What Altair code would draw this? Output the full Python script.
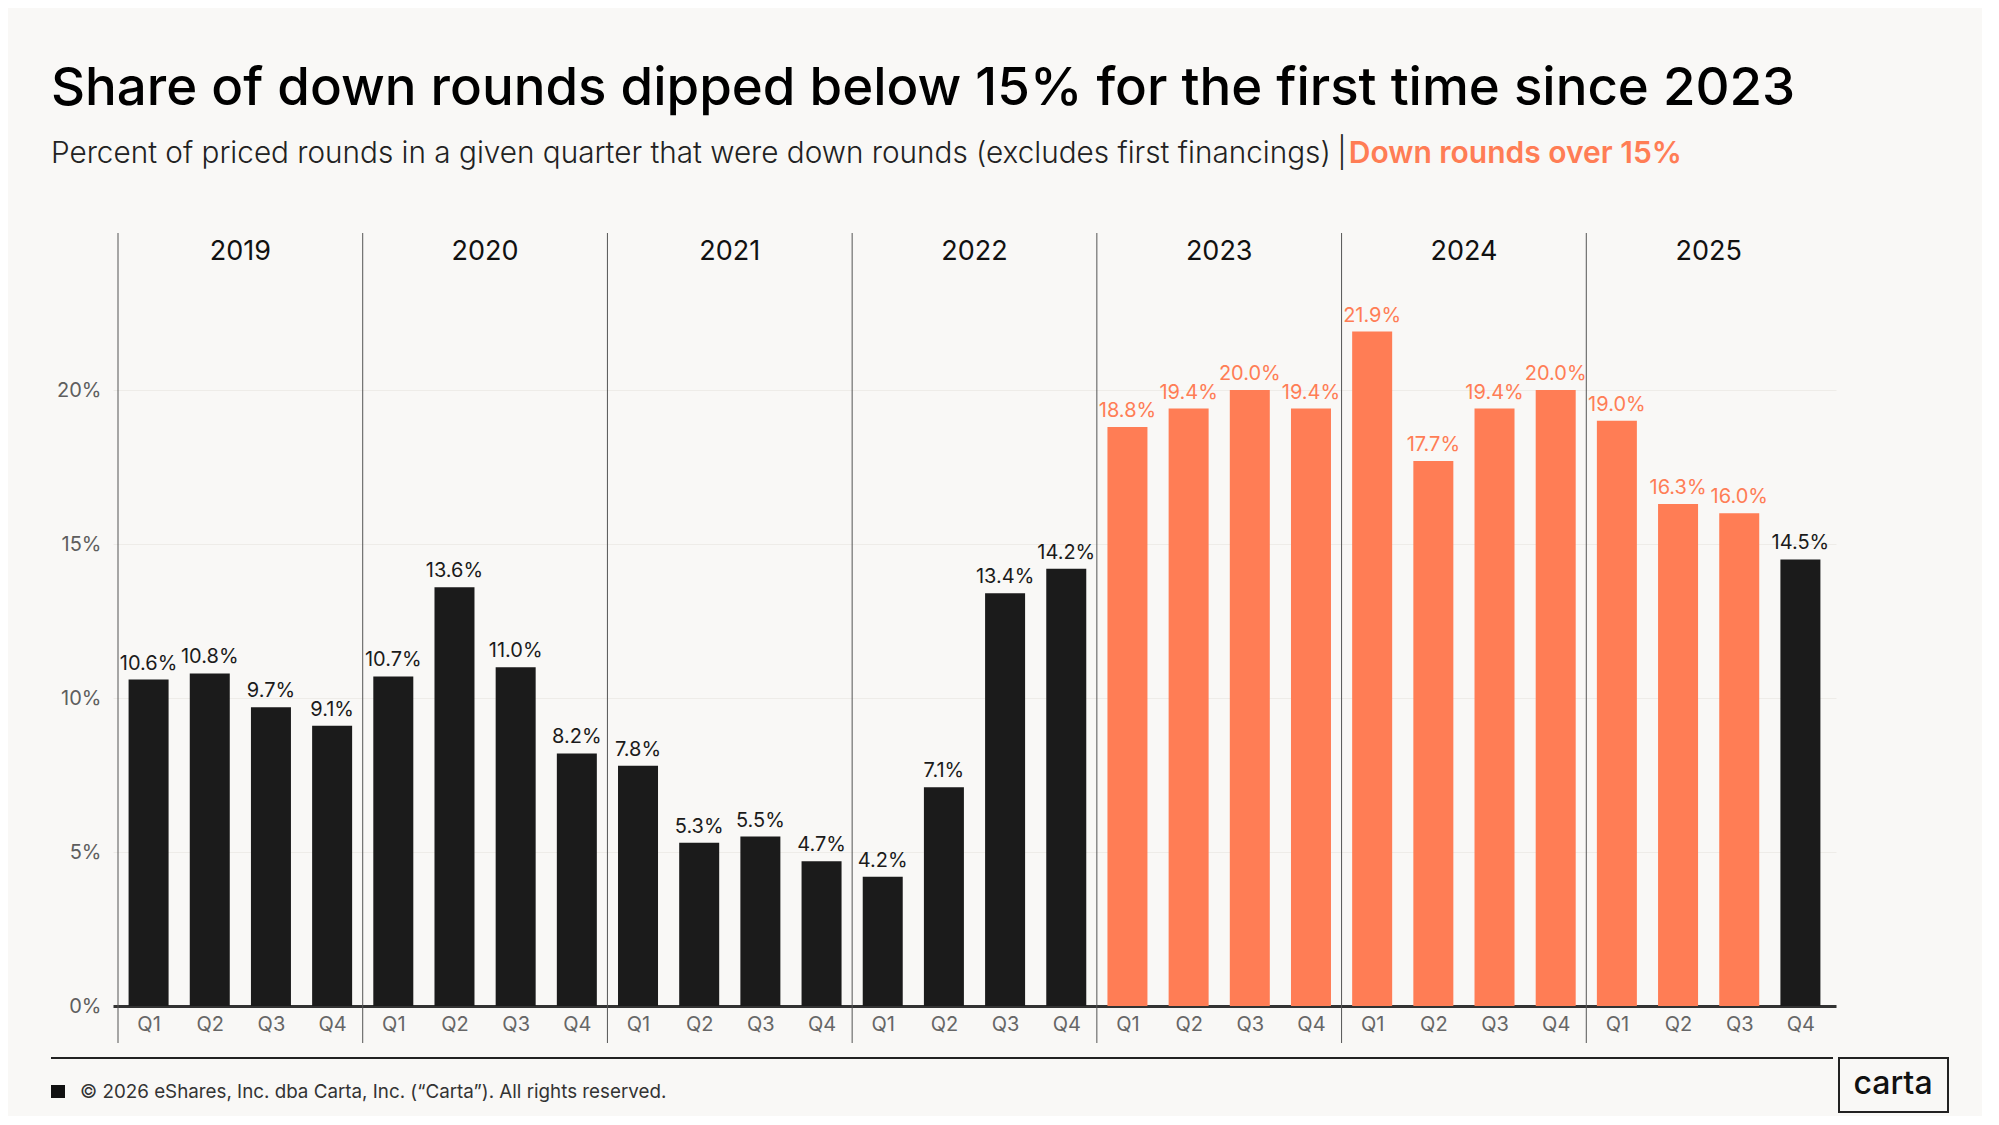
import altair as alt
import pandas as pd

years = ["2019", "2020", "2021", "2022", "2023", "2024", "2025"]
quarters = ["Q1", "Q2", "Q3", "Q4"]
values = [
    10.6, 10.8, 9.7, 9.1,
    10.7, 13.6, 11.0, 8.2,
    7.8, 5.3, 5.5, 4.7,
    4.2, 7.1, 13.4, 14.2,
    18.8, 19.4, 20.0, 19.4,
    21.9, 17.7, 19.4, 20.0,
    19.0, 16.3, 16.0, 14.5,
]
threshold = 15.0

title_text = "Share of down rounds dipped below 15% for the first time since 2023"
subtitle_text = "Percent of priced rounds in a given quarter that were down rounds (excludes first financings)"
subtitle_hl = "Down rounds over 15%"
footer_text = "\u00a9 2026 eShares, Inc. dba Carta, Inc. (\u201cCarta\u201d). All rights reserved."

ORANGE = "#FF7D55"
BLACK = "#1B1B1B"
BG = "#F9F8F6"
FONT = "Inter"

rows = []
for i, v in enumerate(values):
    rows.append({
        "idx": i,
        "year": years[i // 4],
        "quarter": quarters[i % 4],
        "value": v,
        "label": f"{v:.1f}%",
        "hot": v > threshold,
    })
df = pd.DataFrame(rows)

year_df = pd.DataFrame({"year": years, "center": [4 * k + 1.5 for k in range(len(years))]})
sep_df = pd.DataFrame({"pos": [4 * k - 0.5 for k in range(len(years))]})

W, H = 1723, 773
x_scale = alt.Scale(domain=[-0.5, 27.5], nice=False, zero=False)
y_scale = alt.Scale(domain=[0, 25.1], nice=False)

color_enc = alt.condition("datum.hot", alt.value(ORANGE), alt.value(BLACK))

bars = alt.Chart(df).mark_bar(size=40).encode(
    x=alt.X("idx:Q", scale=x_scale,
            axis=alt.Axis(values=list(range(28)), labelExpr="'Q' + ((datum.value % 4) + 1)",
                          title=None, grid=False, ticks=False, domain=True,
                          domainColor="#333333", domainWidth=3,
                          labelColor="#666666", labelFontSize=20, labelFont=FONT,
                          labelPadding=8, labelFontWeight=400)),
    y=alt.Y("value:Q", scale=y_scale,
            axis=alt.Axis(values=[0, 5, 10, 15, 20], labelExpr="datum.value + '%'",
                          title=None, domain=False, ticks=False, grid=True,
                          gridColor="#EEECE8", gridWidth=1,
                          labelColor="#5E5E5E", labelFontSize=20, labelFont=FONT,
                          labelPadding=12)),
    color=color_enc,
)

labels = alt.Chart(df).mark_text(baseline="bottom", dy=-6, fontSize=20, font=FONT).encode(
    x=alt.X("idx:Q", scale=x_scale),
    y=alt.Y("value:Q", scale=y_scale),
    text="label:N",
    color=color_enc,
)

seps = alt.Chart(sep_df).mark_rule(color="#555555", strokeWidth=1).encode(
    x=alt.X("pos:Q", scale=x_scale),
    y=alt.value(0),
    y2=alt.value(810),
)

year_labels = alt.Chart(year_df).mark_text(fontSize=27, font=FONT, fontWeight=400,
                                           color="#111111", baseline="middle").encode(
    x=alt.X("center:Q", scale=x_scale),
    y=alt.value(19),
    text="year:N",
)

one = pd.DataFrame({"a": [0]})

title = alt.Chart(one).mark_text(text=title_text, align="left", baseline="alphabetic",
                                 fontSize=52.8, fontWeight=500, font=FONT, color="#000000").encode(
    x=alt.value(-62), y=alt.value(-128))

sub1 = alt.Chart(one).mark_text(text=subtitle_text, align="left", baseline="alphabetic",
                                fontSize=29.7, fontWeight=300, font=FONT, color="#222222").encode(
    x=alt.value(-62), y=alt.value(-70))
sub_bar = alt.Chart(one).mark_text(text="|", align="center", baseline="alphabetic",
                                   fontSize=30, fontWeight=300, font=FONT, color="#222222").encode(
    x=alt.value(1229), y=alt.value(-70))
sub2 = alt.Chart(one).mark_text(text=subtitle_hl, align="right", baseline="alphabetic",
                                fontSize=30, fontWeight=600, font=FONT, color=ORANGE).encode(
    x=alt.value(1569), y=alt.value(-70))

footer_line = alt.Chart(one).mark_rule(color="#222222", strokeWidth=2).encode(
    x=alt.value(-62), x2=alt.value(1720), y=alt.value(825))
footer_sq = alt.Chart(one).mark_rect(color="#111111").encode(
    x=alt.value(-62), x2=alt.value(-48), y=alt.value(852), y2=alt.value(865))
footer = alt.Chart(one).mark_text(text=footer_text, align="left", baseline="alphabetic",
                                  fontSize=18.8, font=FONT, color="#333333").encode(
    x=alt.value(-33), y=alt.value(865))
logo_box = alt.Chart(one).mark_rect(filled=False, stroke="#222222", strokeWidth=2).encode(
    x=alt.value(1726), x2=alt.value(1835), y=alt.value(825), y2=alt.value(879))
logo = alt.Chart(one).mark_text(text="carta", align="center", baseline="middle",
                                fontSize=32, fontWeight=500, font=FONT, color="#111111").encode(
    x=alt.value(1780), y=alt.value(851))

chart = alt.layer(
    bars, labels, seps, year_labels, title, sub1, sub_bar, sub2,
    footer_line, footer_sq, footer, logo_box, logo,
).properties(
    width=W, height=H,
    autosize=alt.AutoSizeParams(type="none"),
    padding={"left": 105, "top": 225, "right": 146, "bottom": 110},
    background=BG,
).configure_view(stroke=None)

chart.save("out.html", embed_options={"renderer": "svg", "actions": False})
